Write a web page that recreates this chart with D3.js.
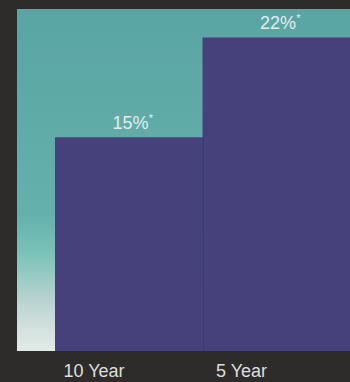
<!DOCTYPE html>
<html>
<head>
<meta charset="utf-8">
<style>
  html, body { margin: 0; padding: 0; background: #2e2c2a; }
  svg { display: block; }
  text { font-family: "Liberation Sans", Arial, sans-serif; }
</style>
</head>
<body>
<svg width="350" height="382"></svg>
<script src="https://cdn.jsdelivr.net/npm/d3@7/dist/d3.min.js"></script>
<script>
// data
var periods = ["10 Year", "5 Year"];
var returns = [15, 22];
var valueLabels = ["15%", "22%"];

var svg = d3.select("svg"),
    margin = {top: 9, right: 0, bottom: 31, left: 17},
    width = +svg.attr("width") - margin.left - margin.right,
    height = +svg.attr("height") - margin.top - margin.bottom;

svg.append("rect")
    .attr("width", 350)
    .attr("height", 382)
    .attr("fill", "#2e2c2a");

var defs = svg.append("defs");
var grad = defs.append("linearGradient")
    .attr("id", "bg")
    .attr("x1", 0).attr("y1", 0)
    .attr("x2", 0).attr("y2", 1);
[[0, "#5aa5a4"], [0.6, "#64b0ab"], [0.72, "#7cc3b9"],
 [0.84, "#b3d2cc"], [0.93, "#d2e0dd"], [1, "#e3ebe8"]].forEach(function(s) {
  grad.append("stop").attr("offset", s[0]).attr("stop-color", s[1]);
});

var g = svg.append("g")
    .attr("transform", "translate(" + margin.left + "," + margin.top + ")");

g.append("rect")
    .attr("width", width)
    .attr("height", height)
    .attr("fill", "url(#bg)");

var x = d3.scaleBand()
    .domain(periods)
    .range([38, width])
    .paddingInner(0);

var y = d3.scaleLinear()
    .domain([0, 24])
    .range([height, 0]);

var data = periods.map(function(p, i) {
  return {period: p, value: returns[i], label: valueLabels[i]};
});

g.selectAll(".bar")
    .data(data)
  .enter().append("rect")
    .attr("class", "bar")
    .attr("x", function(d) { return x(d.period); })
    .attr("y", function(d) { return y(d.value); })
    .attr("width", x.bandwidth())
    .attr("height", function(d) { return height - y(d.value); })
    .attr("fill", "#47417b");

// faint seam between the two bars
g.append("line")
    .attr("x1", x(periods[1]) + 0.5)
    .attr("x2", x(periods[1]) + 0.5)
    .attr("y1", y(returns[0]))
    .attr("y2", height)
    .attr("stroke", "#3c376c")
    .attr("stroke-width", 1.5);

var lbl = g.selectAll(".val")
    .data(data)
  .enter().append("text")
    .attr("class", "val")
    .attr("x", function(d) { return x(d.period) + x.bandwidth() / 2 + 4; })
    .attr("y", function(d) { return y(d.value) - 8.5; })
    .attr("text-anchor", "middle")
    .attr("fill", "#e4ecec")
    .attr("font-size", 18);
lbl.append("tspan").text(function(d) { return d.label; });
lbl.append("tspan")
    .attr("font-size", 11)
    .attr("dy", -7)
    .text("*");

g.append("g")
    .attr("transform", "translate(0," + height + ")")
    .call(d3.axisBottom(x).tickSize(0).tickPadding(0))
    .call(function(a) { a.select(".domain").remove(); })
  .selectAll("text")
    .attr("x", -x.bandwidth() / 2 + 39)
    .attr("y", 26)
    .attr("dy", 0)
    .attr("fill", "#dedede")
    .attr("font-size", 18)
    .attr("font-family", "'Liberation Sans', Arial, sans-serif");
</script>
</body>
</html>
